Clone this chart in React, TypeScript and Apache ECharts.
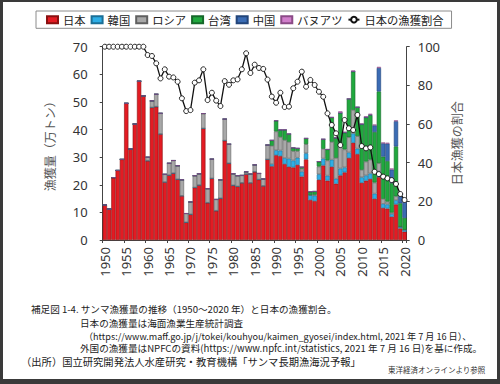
import React, { useEffect, useRef } from "react";
import * as echarts from "echarts";

const years: string[] = Array.from({ length: 71 }, (_, i) => String(1950 + i));

// 万トン
const japan = [
  12.7, 11.2, 22.6, 25.2, 29.2, 49.5, 33.0, 42.0, 57.5, 52.2,
  28.7, 48.0, 48.3, 38.4, 21.0, 23.5, 24.2, 22.0, 16.0, 6.4,
  9.3, 19.0, 19.9, 40.4, 13.5, 22.3, 10.6, 15.1, 36.0, 27.8,
  19.8, 19.4, 20.7, 23.9, 20.7, 24.7, 21.9, 19.6, 29.2, 26.7,
  30.7, 30.4, 27.5, 26.5, 26.3, 27.2, 23.0, 29.2, 14.5, 14.1,
  21.8, 27.0, 21.5, 26.5, 20.4, 23.4, 24.5, 29.7, 35.2, 31.1,
  20.7, 21.5, 22.1, 14.9, 22.8, 11.6, 11.4, 8.4, 12.9, 4.2,
  3.0,
];
const korea = [
  0, 0, 0, 0, 0, 0, 0, 0, 0, 0,
  0, 0, 0, 0, 0, 0, 0, 0, 0, 0,
  0, 0, 0, 0, 0, 0, 0, 0, 0, 0,
  0, 0, 0, 0, 0, 0, 0, 0, 0, 0.8,
  1.8, 2.0, 2.2, 3.0, 2.5, 2.6, 1.8, 2.2, 1.8, 2.0,
  2.0, 2.5, 1.8, 2.6, 1.8, 2.5, 1.8, 2.0, 3.4, 2.0,
  2.0, 1.9, 2.0, 1.9, 2.0, 1.5, 1.5, 1.0, 1.5, 0.6,
  0.7,
];
const russia = [
  0, 0, 0, 0, 0, 0, 0, 0, 0, 0,
  1.3, 2.4, 4.5, 7.5, 2.8, 4.3, 4.6, 4.9, 5.8, 3.2,
  4.5, 4.3, 4.1, 5.4, 5.1, 7.0, 4.1, 6.7, 7.8, 6.9,
  4.2, 3.9, 2.7, 0.8, 3.2, 2.5, 2.2, 2.5, 5.2, 6.6,
  6.8, 4.9, 6.5, 6.0, 3.4, 2.4, 1.0, 3.3, 0, 0.3,
  2.8, 3.5, 5.5, 6.4, 7.5, 9.0, 6.5, 5.5, 8.5, 4.5,
  2.7, 5.0, 5.0, 4.0, 3.0, 1.8, 1.0, 0.5, 1.4, 0,
  0,
];
const taiwan = [
  0, 0, 0, 0, 0, 0, 0, 0, 0, 0,
  0, 0, 0, 0, 0, 0, 0, 0, 0, 0,
  0, 0, 0, 0, 0, 0, 0, 0, 0, 0,
  0, 0, 0, 0, 0, 0, 0, 0, 0, 2.0,
  3.9, 2.6, 3.7, 2.9, 1.2, 1.0, 0.6, 2.1, 1.2, 1.2,
  1.8, 3.5, 4.0, 8.9, 7.3, 11.1, 6.1, 13.9, 13.9, 10.5,
  16.5, 16.0, 16.1, 18.3, 26.0, 15.3, 14.7, 10.7, 18.1, 8.5,
  4.3,
];
const china = [
  0, 0, 0, 0, 0, 0, 0, 0, 0, 0,
  0, 0, 0, 0, 0, 0, 0, 0, 0, 0,
  0, 0, 0, 0, 0, 0, 0, 0, 0, 0,
  0, 0, 0, 0, 0, 0, 0, 0, 0, 0,
  0, 0, 0, 0, 0, 0, 0, 0, 0, 0,
  0, 0, 0, 0, 0, 0, 0, 0, 0, 0,
  0, 0, 0.2, 2.4, 8.5, 4.8, 6.3, 4.9, 9.1, 3.8,
  6.0,
];
const vanuatu = [
  0, 0, 0, 0, 0, 0, 0, 0, 0, 0,
  0, 0, 0, 0, 0, 0, 0, 0, 0, 0,
  0, 0, 0, 0, 0, 0, 0, 0, 0, 0,
  0, 0, 0, 0, 0, 0, 0, 0, 0, 0,
  0, 0, 0, 0, 0, 0, 0, 0, 0, 0,
  0, 0, 0, 0, 0, 0.6, 0.3, 0, 0.4, 0,
  0.3, 0.4, 0.3, 0.3, 0.4, 0.3, 0.3, 0.4, 0.3, 0.2,
  0.2,
];
// 日本の漁獲割合 (%)
const ratio = [
  100, 100, 100, 100, 100, 100, 100, 100, 100, 100,
  95.7, 95.2, 91.4, 83.6, 88.3, 84.5, 84.1, 81.9, 73.3, 66.7,
  67.2, 81.4, 82.6, 88.3, 72.4, 76.2, 72.1, 69.3, 82.2, 80.3,
  82.6, 83.1, 88.3, 96.6, 86.4, 90.7, 89.0, 88.5, 83.0, 74.2,
  71.0, 76.2, 68.8, 69.0, 78.5, 81.9, 87.1, 79.3, 82.8, 80.2,
  76.7, 74.1, 65.5, 59.5, 55.2, 49.1, 62.1, 57.8, 56.9, 64.7,
  48.6, 47.4, 47.9, 35.3, 34.1, 32.8, 31.9, 31.0, 29.0, 23.8,
  20.7,
];

const leftTicks = { min: 0, max: 70, interval: 10 };
const rightTicks = { min: 0, max: 100, interval: 20 };

const captions = [
  "補足図 1-4. サンマ漁獲量の推移（1950～2020 年）と日本の漁獲割合。",
  "日本の漁獲量は海面漁業生産統計調査",
  "（https://www.maff.go.jp/j/tokei/kouhyou/kaimen_gyosei/index.html, 2021 年 7 月 16 日）、",
  "外国の漁獲量はNPFCの資料(https://www.npfc.int/statistics, 2021 年 7 月 16 日)を基に作成。",
  "（出所）国立研究開発法人水産研究・教育機構「サンマ長期漁海況予報」",
];
const credit = "東洋経済オンラインより参照";

const barDefs = [
  { name: "日本", data: japan, color: "#e31b23", border: "#8a1010" },
  { name: "韓国", data: korea, color: "#2eaee6", border: "#1b6f96" },
  { name: "ロシア", data: russia, color: "#a8a8a8", border: "#606060" },
  { name: "台湾", data: taiwan, color: "#20a83e", border: "#16682a" },
  { name: "中国", data: china, color: "#3b6cb4", border: "#22457a" },
  { name: "バヌアツ", data: vanuatu, color: "#d07ecb", border: "#8a4a86" },
];

const CJK = "'Noto Sans CJK JP', 'Noto Sans', sans-serif";
const NUM = "'Noto Sans', 'Open Sans', sans-serif";

export default function App() {
  const ref = useRef<HTMLDivElement>(null);
  useEffect(() => {
    if (!ref.current) return;
    const chart = echarts.init(ref.current, undefined, { renderer: "svg" });
    const bars = barDefs.map((b) => ({
      name: b.name,
      type: "bar",
      stack: "total",
      yAxisIndex: 0,
      data: b.data,
      barCategoryGap: "0%",
      itemStyle: { color: b.color, borderColor: b.border, borderWidth: 0.6 },
    }));
    const capLayout = [
      [31, 308.5, 9.6],
      [80, 322.5, 9.6],
      [84, 335.5, 9.1],
      [80, 348, 9.6],
      [21, 361, 10.3],
    ];
    const lineCaps = captions.map((t, i) => {
      const pos = capLayout[i];
      return {
        type: "text",
        x: pos[0],
        y: pos[1],
        style: {
          text: t,
          fontSize: pos[2],
          lineHeight: pos[2] + 1,
          fontFamily: CJK,
          fill: "#222",
          verticalAlign: "middle",
          align: "left",
        },
      };
    });
    chart.setOption({
      animation: false,
      backgroundColor: "#ffffff",
      textStyle: { fontFamily: CJK },
      legend: {
        left: 36,
        top: 11,
        padding: [3, 8, 3, 10],
        borderColor: "#8c8c8c",
        borderWidth: 1,
        itemWidth: 11,
        itemHeight: 7,
        itemGap: 5,
        textStyle: { fontSize: 11.3, color: "#222", fontFamily: CJK },
        data: [
          ...barDefs.map((b) => ({ name: b.name, icon: "rect" })),
          { name: "日本の漁獲割合" },
        ],
      },
      grid: { left: 102.7, top: 46.7, width: 304, height: 193.3 },
      xAxis: {
        type: "category",
        data: years,
        boundaryGap: true,
        axisLine: { show: true, lineStyle: { color: "#444", width: 1 } },
        axisTick: {
          show: true,
          interval: 4,
          length: 3,
          lineStyle: { color: "#444" },
        },
        axisLabel: {
          interval: 4,
          rotate: 90,
          fontSize: 13,
          color: "#333",
          margin: 7,
          fontFamily: NUM,
        },
        splitLine: { show: false },
      },
      yAxis: [
        {
          type: "value",
          position: "left",
          ...leftTicks,
          name: "漁獲量（万トン）",
          nameLocation: "middle",
          nameRotate: 90,
          nameGap: 47,
          nameTextStyle: { fontSize: 12, color: "#555", fontFamily: CJK },
          axisLine: { show: true, lineStyle: { color: "#444" } },
          axisTick: { show: true, length: 3, lineStyle: { color: "#444" } },
          axisLabel: { fontSize: 13, color: "#333", margin: 15, fontFamily: NUM },
          splitLine: { show: false },
        },
        {
          type: "value",
          position: "right",
          ...rightTicks,
          name: "日本漁獲の割合",
          nameLocation: "middle",
          nameRotate: 90,
          nameGap: 42,
          nameTextStyle: { fontSize: 12, color: "#555", fontFamily: CJK },
          axisLine: { show: true, lineStyle: { color: "#444" } },
          axisTick: { show: true, length: 3, lineStyle: { color: "#444" } },
          axisLabel: { fontSize: 13, color: "#333", margin: 11, fontFamily: NUM },
          splitLine: { show: false },
        },
      ],
      series: [
        ...bars,
        {
          name: "日本の漁獲割合",
          type: "line",
          yAxisIndex: 1,
          data: ratio,
          symbol: "circle",
          symbolSize: 5,
          showSymbol: true,
          showAllSymbol: true,
          z: 5,
          lineStyle: { color: "#111", width: 1.3 },
          itemStyle: { color: "#ffffff", borderColor: "#111", borderWidth: 0.9 },
        },
      ],
      graphic: [
        ...lineCaps,
        {
          type: "text",
          x: 388,
          y: 369,
          style: {
            text: credit,
            fontSize: 7.5,
            fontFamily: CJK,
            fill: "#333",
            verticalAlign: "middle",
          },
        },
        { type: "rect", shape: { x: 0, y: 0, width: 500, height: 2 }, style: { fill: "#3a3a3a" } },
        { type: "rect", shape: { x: 0, y: 0, width: 3, height: 384 }, style: { fill: "#3a3a3a" } },
        { type: "rect", shape: { x: 497, y: 0, width: 3, height: 384 }, style: { fill: "#3a3a3a" } },
        { type: "rect", shape: { x: 0, y: 379, width: 500, height: 5 }, style: { fill: "#3a3a3a" } },
      ],
    });
    return () => chart.dispose();
  }, []);
  return (
    <div
      ref={ref}
      style={{ position: "absolute", left: 0, top: 0, width: 500, height: 384 }}
    />
  );
}
